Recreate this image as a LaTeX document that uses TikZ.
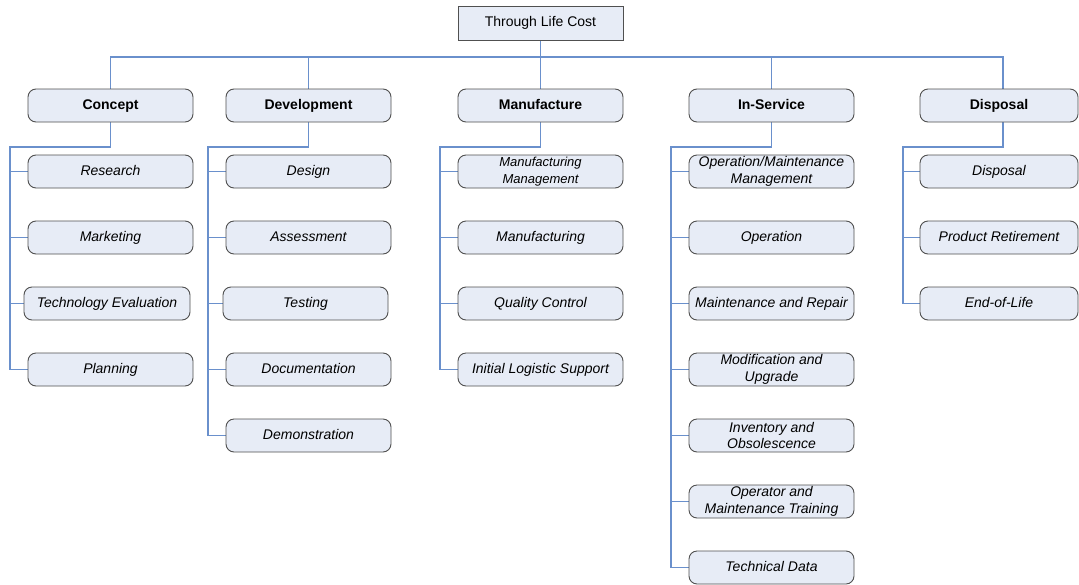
\documentclass[tikz,border=0pt]{standalone}
\usepackage{fontspec}
\setmainfont{Liberation Sans}
\usetikzlibrary{backgrounds}
\definecolor{boxfill}{HTML}{E7ECF6}
\definecolor{boxline}{HTML}{505050}
\definecolor{linecol}{HTML}{6A90CC}
\begin{document}
\begin{tikzpicture}[x=1pt,y=-1pt,
  topbox/.style={draw=boxline, fill=boxfill, line width=0.9pt, minimum width=165pt, minimum height=34pt, inner sep=1pt, text height=10.5pt, text depth=3pt, font=\fontsize{14}{16.5}\selectfont},
  lvl/.style={draw=boxline, fill=boxfill, line width=0.9pt, rounded corners=8pt, minimum width=165pt, minimum height=33pt, inner sep=1pt, text height=10.5pt, text depth=3pt, align=center, font=\fontsize{14}{16.5}\selectfont\bfseries},
  item/.style={lvl, font=\fontsize{14}{16.5}\selectfont\itshape},
  twoline/.style={lvl, text height=, text depth=, font=\fontsize{14}{16.5}\selectfont\itshape},
  smallitem/.style={twoline, font=\fontsize{13}{16.5}\selectfont\itshape},
  conn/.style={draw=linecol, line width=1.1pt}
]
\useasboundingbox (0,0) rectangle (1079,584);

% top
\node[topbox] (top) at (540.5,23) {Through Life Cost};

% level 1
\node[lvl] (concept) at (110.5,105.5) {Concept};
\node[lvl] (dev) at (308.5,105.5) {Development};
\node[lvl] (manu) at (540.5,105.5) {Manufacture};
\node[lvl] (insvc) at (771.5,105.5) {In-Service};
\node[lvl,minimum width=158pt] (disp) at (999,105.5) {Disposal};

% Concept children
\node[item] (c1) at (110.5,171.5) {Research};
\node[item] (c2) at (110.5,237.5) {Marketing};
\node[item,minimum width=166pt] (c3) at (107,303.5) {Technology Evaluation};
\node[item] (c4) at (110.5,369.5) {Planning};

% Development children
\node[item] (d1) at (308.5,171.5) {Design};
\node[item] (d2) at (308.5,237.5) {Assessment};
\node[item] (d3) at (305.5,303.5) {Testing};
\node[item] (d4) at (308.5,369.5) {Documentation};
\node[item] (d5) at (308.5,435.5) {Demonstration};

% Manufacture children
\node[smallitem] (m1) at (540.5,171.5) {Manufacturing\\Management};
\node[item] (m2) at (540.5,237.5) {Manufacturing};
\node[item] (m3) at (540.5,303.5) {Quality Control};
\node[item] (m4) at (540.5,369.5) {Initial Logistic Support};

% In-Service children
\node[twoline] (s1) at (771.5,171.5) {Operation/Maintenance\\Management};
\node[item] (s2) at (771.5,237.5) {Operation};
\node[item] (s3) at (771.5,303.5) {Maintenance and Repair};
\node[twoline] (s4) at (771.5,369.5) {Modification and\\Upgrade};
\node[twoline] (s5) at (771.5,435.5) {Inventory and\\Obsolescence};
\node[twoline] (s6) at (771.5,501.5) {Operator and\\Maintenance Training};
\node[item] (s7) at (771.5,567.5) {Technical Data};

% Disposal children
\node[item,minimum width=158pt] (p1) at (999,171.5) {Disposal};
\node[item,minimum width=158pt] (p2) at (999,237.5) {Product Retirement};
\node[item,minimum width=158pt] (p3) at (999,303.5) {End-of-Life};

\begin{scope}[on background layer]
\fill[white] (0,0) rectangle (1079,584);
\coordinate (busy) at (540,57);
% top-level connectors
\foreach \n in {concept,dev,manu,insvc} {
  \draw[conn] (top.south) -- (top.south |- busy) -| (\n.north);
}
\coordinate (dtop) at (1003,89);
\draw[conn] (top.south |- busy) -| (dtop);

% column connectors
\coordinate (cb) at (10,147);
\coordinate (db) at (208,147);
\coordinate (mb) at (440,147);
\coordinate (sb) at (671,147);
\coordinate (pb) at (903,147);
\coordinate (dbot) at (1003,122);

\draw[conn] (concept.south) |- (cb) |- (c4.west);
\foreach \c in {c1,c2,c3} \draw[conn] (cb |- \c.west) -- (\c.west);

\draw[conn] (dev.south) |- (db) |- (d5.west);
\foreach \c in {d1,d2,d3,d4} \draw[conn] (db |- \c.west) -- (\c.west);

\draw[conn] (manu.south) |- (mb) |- (m4.west);
\foreach \c in {m1,m2,m3} \draw[conn] (mb |- \c.west) -- (\c.west);

\draw[conn] (insvc.south) |- (sb) |- (s7.west);
\foreach \c in {s1,s2,s3,s4,s5,s6} \draw[conn] (sb |- \c.west) -- (\c.west);

\draw[conn] (dbot) |- (pb) |- (p3.west);
\foreach \c in {p1,p2} \draw[conn] (pb |- \c.west) -- (\c.west);
\end{scope}
\end{tikzpicture}
\end{document}
